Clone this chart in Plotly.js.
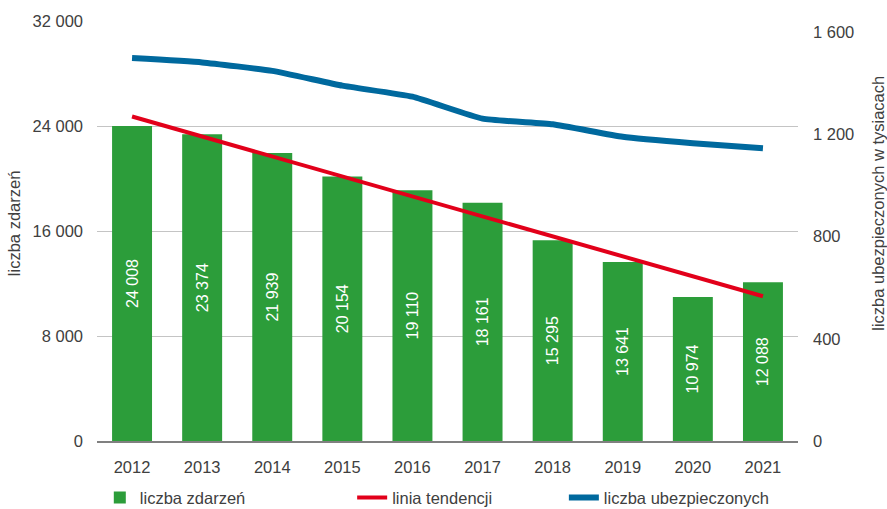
<!DOCTYPE html>
<html>
<head>
<meta charset="utf-8">
<script src="https://cdn.plot.ly/plotly-3.0.1.min.js"></script>
<style>html,body{margin:0;padding:0;background:#fff}#chart{width:887px;height:509px}</style>
</head>
<body>
<div id="chart"></div>
<script>
const years = ['2012','2013','2014','2015','2016','2017','2018','2019','2020','2021'];
const zdarzenia = [24008, 23374, 21939, 20154, 19110, 18161, 15295, 13641, 10974, 12088];
const zdarzeniaLabels = ['24 008','23 374','21 939','20 154','19 110','18 161','15 295','13 641','10 974','12 088'];
const ubezpieczeni = [1498, 1481, 1448, 1390, 1347, 1261, 1239, 1190, 1165, 1145];
const trendYears = ['2012', '2021'];
const trendValues = [24722, 11026];
const leftTicks = [0, 8000, 16000, 24000, 32000];
const leftTickLabels = ['0', '8 000', '16 000', '24 000', '32 000'];
const rightTicks = [0, 400, 800, 1200, 1600];
const rightTickLabels = ['0', '400', '800', '1 200', '1 600'];

const FONT = '"Liberation Sans Narrow", "Liberation Sans", Arial, sans-serif';
const TXT = '#404040';
const FS = 16.5;

const traces = [
  {
    type: 'bar', x: years, y: zdarzenia, name: 'liczba zdarzeń',
    marker: {color: '#2c9d3a'},
    text: zdarzeniaLabels, textposition: 'inside', insidetextanchor: 'middle',
    textangle: -90, textfont: {family: FONT, size: 16, color: '#ffffff'},
    hoverinfo: 'x+y', legend: 'legend'
  },
  {
    type: 'scatter', mode: 'lines', x: trendYears, y: trendValues, name: 'linia tendencji',
    line: {color: '#e2001a', width: 4}, legend: 'legend2'
  },
  {
    type: 'scatter', mode: 'lines', x: years, y: ubezpieczeni, name: 'liczba ubezpieczonych',
    yaxis: 'y2', line: {color: '#00699e', width: 6, shape: 'spline', smoothing: 0.4}, legend: 'legend3'
  }
];

const legBase = {orientation: 'h', yref: 'container', y: 0.022, yanchor: 'middle', xanchor: 'left',
  font: {family: FONT, size: FS, color: TXT}, bgcolor: 'rgba(0,0,0,0)'};

const layout = {
  width: 887, height: 509,
  margin: {l: 97, r: 89, t: 21, b: 68},
  paper_bgcolor: '#ffffff', plot_bgcolor: '#ffffff',
  font: {family: FONT, size: FS, color: TXT},
  bargap: 0.43,
  showlegend: true,
  xaxis: {
    type: 'category', tickfont: {family: FONT, size: FS, color: TXT},
    showline: true, linecolor: '#808080', linewidth: 2, ticks: '', showgrid: false,
    zeroline: false, automargin: false, ticklabelstandoff: 10
  },
  yaxis: {
    range: [0, 32000], tickvals: leftTicks, ticktext: leftTickLabels,
    showgrid: true, gridcolor: '#c4c4c4', gridwidth: 1, zeroline: false,
    tickfont: {family: FONT, size: FS, color: TXT}, ticks: '', automargin: false,
    ticklabelstandoff: 13
  },
  yaxis2: {
    overlaying: 'y', side: 'right', range: [0, 1643],
    tickvals: rightTicks, ticktext: rightTickLabels, showgrid: false, zeroline: false,
    tickfont: {family: FONT, size: FS, color: TXT}, ticks: '', automargin: false,
    ticklabelstandoff: 14
  },
  annotations: [
    {text: 'liczba zdarzeń', xref: 'paper', yref: 'paper', x: -0.118, y: 0.517,
     xanchor: 'center', yanchor: 'middle', textangle: -90, showarrow: false,
     font: {family: FONT, size: FS, color: TXT}},
    {text: 'liczba ubezpieczonych w tysiacach', xref: 'paper', yref: 'paper', x: 1.114, y: 0.567,
     xanchor: 'center', yanchor: 'middle', textangle: -90, showarrow: false,
     font: {family: FONT, size: FS, color: TXT}}
  ],
  legend: Object.assign({}, legBase, {x: 0.004}),
  legend2: Object.assign({}, legBase, {x: 0.364}),
  legend3: Object.assign({}, legBase, {x: 0.666})
};

Plotly.newPlot('chart', traces, layout, {displayModeBar: false, responsive: false});
</script>
</body>
</html>
